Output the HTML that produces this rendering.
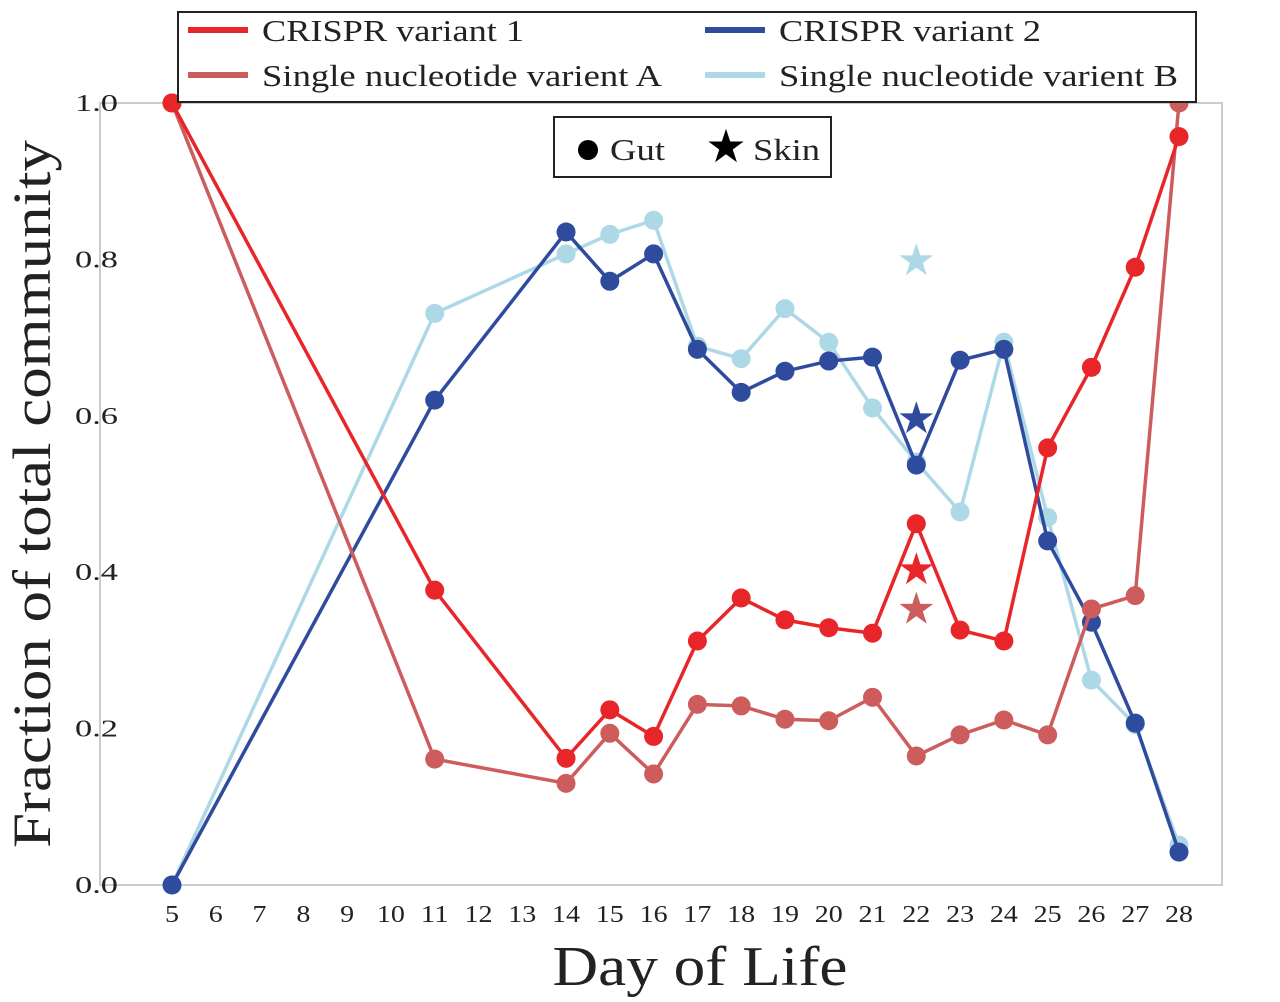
<!DOCTYPE html>
<html><head><meta charset="utf-8"><style>
body{margin:0;background:#fff;}
svg{display:block;font-family:"Liberation Serif",serif;}
</style></head><body>
<svg id="chart" width="1280" height="1002" viewBox="0 0 1280 1002" xmlns="http://www.w3.org/2000/svg">
<rect x="100" y="103" width="1122" height="782" fill="#fff" stroke="#cccccc" stroke-width="2"/>
<g id="ticks"></g>
<g id="series"></g>
<text x="50" y="494" font-size="54" text-anchor="middle" textLength="708" lengthAdjust="spacingAndGlyphs" transform="rotate(-90 50 494)" fill="#222">Fraction of total community</text>
<text x="700" y="985" font-size="56" text-anchor="middle" textLength="295" lengthAdjust="spacingAndGlyphs" fill="#222">Day of Life</text>
<g>
<rect x="178" y="12" width="1018" height="90" fill="#fff" stroke="#222" stroke-width="2"/>
<line x1="188" y1="30" x2="248" y2="30" stroke="#e8262a" stroke-width="6"/>
<text x="262" y="41" font-size="31" textLength="262" lengthAdjust="spacingAndGlyphs" fill="#222">CRISPR variant 1</text>
<line x1="188" y1="75" x2="248" y2="75" stroke="#cd5c5c" stroke-width="6"/>
<text x="262" y="86" font-size="31" textLength="400" lengthAdjust="spacingAndGlyphs" fill="#222">Single nucleotide varient A</text>
<line x1="705" y1="30" x2="765" y2="30" stroke="#2f4b9e" stroke-width="6"/>
<text x="779" y="41" font-size="31" textLength="262" lengthAdjust="spacingAndGlyphs" fill="#222">CRISPR variant 2</text>
<line x1="705" y1="75" x2="765" y2="75" stroke="#add8e6" stroke-width="6"/>
<text x="779" y="86" font-size="31" textLength="399" lengthAdjust="spacingAndGlyphs" fill="#222">Single nucleotide varient B</text>
</g>
<g>
<rect x="554" y="117" width="277" height="60" fill="#fff" stroke="#222" stroke-width="2"/>
<circle cx="588" cy="150" r="10" fill="#000"/>
<text x="610" y="160" font-size="31" textLength="55" lengthAdjust="spacingAndGlyphs" fill="#222">Gut</text>
<text x="726" y="162" font-size="46" text-anchor="middle" fill="#000">★</text>
<text x="753" y="160" font-size="31" textLength="67" lengthAdjust="spacingAndGlyphs" fill="#222">Skin</text>
</g>
</svg>
<script>
const days=[5,11,14,15,16,17,18,19,20,21,22,23,24,25,26,27,28];
const crispr1=[1.0,0.377,0.162,0.224,0.19,0.312,0.367,0.339,0.329,0.322,0.462,0.326,0.312,0.559,0.662,0.79,0.957];
const snvA=[1.0,0.161,0.13,0.194,0.142,0.231,0.229,0.212,0.21,0.24,0.165,0.192,0.211,0.192,0.353,0.37,1.0];
const crispr2=[0.0,0.62,0.835,0.772,0.807,0.685,0.63,0.657,0.67,0.675,0.537,0.671,0.685,0.44,0.336,0.207,0.042];
const snvB=[0.0,0.731,0.807,0.832,0.85,0.689,0.673,0.737,0.694,0.61,0.541,0.477,0.694,0.47,0.262,0.205,0.051];
const skinDay=22;
const skinValues=[0.403,0.352,0.596,0.798];
const xTicks=[5,6,7,8,9,10,11,12,13,14,15,16,17,18,19,20,21,22,23,24,25,26,27,28];
const yTicks=[0.0,0.2,0.4,0.6,0.8,1.0];
const seriesNames=['crispr-variant-1','snv-a','crispr-variant-2','snv-b'];
const colors=['#e8262a','#cd5c5c','#2f4b9e','#add8e6'];
const NS='http://www.w3.org/2000/svg';
const xs=d=>172+(d-5)*(1179-172)/23;
const ys=v=>885-v*782;
function mk(t,a,p){const e=document.createElementNS(NS,t);for(const k in a)e.setAttribute(k,a[k]);p.appendChild(e);return e;}
const tg=document.getElementById('ticks');
xTicks.forEach(d=>{const s=String(d);const t=mk('text',{x:xs(d),y:922,'font-size':24,'text-anchor':'middle',textLength:s.length*14,lengthAdjust:'spacingAndGlyphs',fill:'#222'},tg);t.textContent=s;

});
yTicks.forEach(v=>{const t=mk('text',{x:118,y:ys(v)+8,'font-size':24,'text-anchor':'end',textLength:43,lengthAdjust:'spacingAndGlyphs',fill:'#222'},tg);t.textContent=v.toFixed(1);

});
const sg=document.getElementById('series');
const all=[crispr1,snvA,crispr2,snvB];
const order=[3,2,1,0];
order.forEach(i=>{const vals=all[i];const g=mk('g',{},sg);


const pl=mk('polyline',{points:days.map((d,j)=>xs(d)+','+ys(vals[j])).join(' '),fill:'none',stroke:colors[i],'stroke-width':3.5},g);


days.forEach((d,j)=>{const c=mk('circle',{cx:xs(d),cy:ys(vals[j]),r:9.5,fill:colors[i]},g);

});
const s=mk('text',{x:xs(skinDay),y:ys(skinValues[i])+14,'font-size':44,'text-anchor':'middle',fill:colors[i]},g);s.textContent='★';


});
</script>
</body></html>
